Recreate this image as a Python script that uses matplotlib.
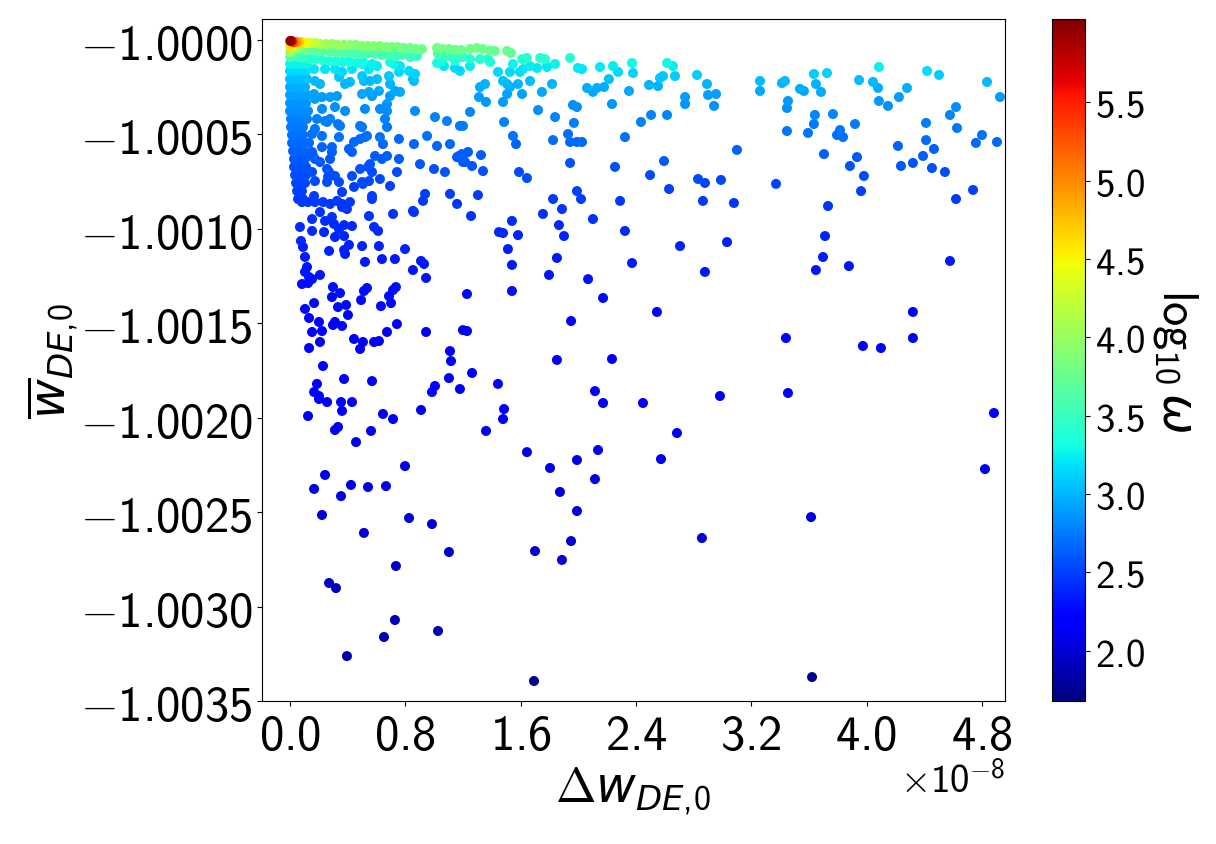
import numpy as np
import matplotlib
matplotlib.use("Agg")
import matplotlib.pyplot as plt
from matplotlib.ticker import FuncFormatter

plt.rcParams['mathtext.fontset'] = 'custom'
plt.rcParams['mathtext.rm'] = 'cmss10'
plt.rcParams['mathtext.sf'] = 'cmss10'
plt.rcParams['mathtext.it'] = 'DejaVu Sans:italic'
plt.rcParams['mathtext.bf'] = 'cmss10'

# each point: (Delta w_DE,0 in units of 1e-8, mean w_DE,0, log10 omega)
top_edge = [
    (0.002, -1.000005, 5.95), (0.010, -1.000005, 5.7), (0.021, -1.000011, 5.35), (0.042, -1.000011, 5.0),
    (0.062, -1.000011, 4.75), (0.083, -1.000011, 4.55), (0.111, -1.000016, 4.4), (0.139, -1.000016, 4.3),
    (0.173, -1.000016, 4.2), (0.208, -1.000021, 4.1), (0.250, -1.000021, 4.05), (0.291, -1.000021, 4.0),
    (0.333, -1.000026, 4.0), (0.375, -1.000026, 3.95), (0.416, -1.000026, 3.95), (0.458, -1.000026, 3.9),
    (0.500, -1.000032, 3.9), (0.541, -1.000032, 3.9), (0.583, -1.000032, 3.9), (0.624, -1.000032, 3.9),
    (0.666, -1.000037, 3.85), (0.708, -1.000037, 3.85), (0.749, -1.000037, 3.85), (0.791, -1.000042, 3.8),
    (0.833, -1.000042, 3.8), (0.874, -1.000048, 3.8), (0.916, -1.000048, 3.8), (1.020, -1.000042, 3.8),
    (1.062, -1.000048, 3.8), (1.103, -1.000048, 3.8), (1.145, -1.000053, 3.78), (1.186, -1.000053, 3.78),
    (1.249, -1.000048, 3.8), (1.297, -1.000042, 3.82), (1.339, -1.000048, 3.8), (1.388, -1.000058, 3.75),
    (1.422, -1.000058, 3.75), (1.506, -1.000058, 3.75), (1.533, -1.000069, 3.7),
]

second_row = [
    (0.002, -1.000032, 4.6), (0.014, -1.000037, 4.3), (0.042, -1.000042, 4.0), (0.069, -1.000048, 3.85),
    (0.104, -1.000053, 3.75), (0.146, -1.000053, 3.7), (0.187, -1.000058, 3.7), (0.229, -1.000058, 3.7),
    (0.278, -1.000064, 3.65), (0.319, -1.000064, 3.65), (0.361, -1.000064, 3.65), (0.402, -1.000069, 3.6),
    (0.451, -1.000069, 3.6), (0.493, -1.000074, 3.6), (0.541, -1.000069, 3.6), (0.590, -1.000074, 3.6),
    (0.638, -1.000079, 3.55), (0.687, -1.000079, 3.55), (0.735, -1.000085, 3.5), (0.784, -1.000079, 3.55),
    (0.833, -1.000090, 3.5), (0.881, -1.000085, 3.5), (1.027, -1.000074, 3.55), (1.082, -1.000085, 3.5),
    (1.124, -1.000090, 3.45), (1.179, -1.000090, 3.45),
]

third_row = [
    (0.002, -1.000064, 4.0), (0.002, -1.000090, 3.6), (0.028, -1.000085, 3.6), (0.062, -1.000090, 3.5),
    (0.097, -1.000095, 3.45), (0.139, -1.000101, 3.4), (0.180, -1.000101, 3.4), (0.222, -1.000106, 3.4),
    (0.271, -1.000111, 3.35), (0.319, -1.000111, 3.35), (0.368, -1.000116, 3.3), (0.416, -1.000116, 3.3),
    (0.465, -1.000122, 3.3), (0.506, -1.000116, 3.3), (0.569, -1.000127, 3.25), (0.694, -1.000116, 3.3),
    (0.763, -1.000138, 3.2), (1.020, -1.000122, 3.3), (1.068, -1.000138, 3.2), (1.145, -1.000148, 3.15),
    (1.249, -1.000101, 3.4), (1.318, -1.000101, 3.4), (1.374, -1.000101, 3.4), (1.610, -1.000101, 3.4),
    (1.644, -1.000095, 3.42), (1.735, -1.000095, 3.42), (1.769, -1.000101, 3.4), (1.943, -1.000095, 3.42),
    (1.200, -1.000090, 3.45), (1.055, -1.000111, 3.35), (1.145, -1.000111, 3.35),
]

left_column = [
    (0.0, -1.000127, 3.27), (0.035, -1.000127, 3.27), (0.076, -1.000127, 3.27), (0.118, -1.000127, 3.27),
    (0.0, -1.000164, 3.15), (0.028, -1.000164, 3.15), (0.069, -1.000164, 3.15), (0.111, -1.000164, 3.15),
    (0.0, -1.000207, 3.05), (0.035, -1.000207, 3.05), (0.076, -1.000207, 3.05), (0.118, -1.000207, 3.05),
    (0.0, -1.000249, 2.97), (0.028, -1.000249, 2.97), (0.069, -1.000249, 2.97), (0.104, -1.000249, 2.97),
    (0.0, -1.000291, 2.92), (0.035, -1.000291, 2.92), (0.076, -1.000291, 2.92), (0.118, -1.000291, 2.92),
    (0.0, -1.000334, 2.86), (0.035, -1.000334, 2.86), (0.069, -1.000334, 2.86), (0.111, -1.000334, 2.86),
    (0.0, -1.000376, 2.82), (0.042, -1.000376, 2.82), (0.083, -1.000376, 2.82), (0.125, -1.000376, 2.82),
    (0.007, -1.000418, 2.78), (0.042, -1.000418, 2.78), (0.083, -1.000418, 2.78), (0.118, -1.000418, 2.78),
    (0.007, -1.000461, 2.74), (0.049, -1.000461, 2.74), (0.090, -1.000461, 2.74),
    (0.014, -1.000503, 2.7), (0.049, -1.000503, 2.7), (0.090, -1.000503, 2.7),
    (0.014, -1.000545, 2.67), (0.056, -1.000545, 2.67), (0.097, -1.000545, 2.67), (0.132, -1.000545, 2.67),
    (0.021, -1.000588, 2.64), (0.056, -1.000588, 2.64), (0.097, -1.000588, 2.64),
    (0.028, -1.000630, 2.6), (0.062, -1.000630, 2.6), (0.104, -1.000630, 2.6),
    (0.028, -1.000672, 2.58), (0.069, -1.000672, 2.58), (0.111, -1.000672, 2.58),
    (0.035, -1.000715, 2.55), (0.069, -1.000715, 2.55), (0.111, -1.000715, 2.55),
    (0.042, -1.000757, 2.52), (0.076, -1.000757, 2.52), (0.104, -1.000757, 2.52),
    (0.049, -1.000800, 2.5), (0.083, -1.000800, 2.5),
    (0.056, -1.000842, 2.47), (0.090, -1.000842, 2.47),
]

inner_cluster = [
    (0.167, -1.000154, 3.2), (0.243, -1.000154, 3.2), (0.312, -1.000154, 3.2), (0.361, -1.000169, 3.15),
    (0.430, -1.000154, 3.2), (0.500, -1.000127, 3.27), (0.548, -1.000154, 3.2), (0.604, -1.000138, 3.23),
    (0.722, -1.000127, 3.27), (0.826, -1.000164, 3.15), (0.867, -1.000180, 3.12), (0.173, -1.000217, 3.02),
    (0.208, -1.000233, 3.0), (0.340, -1.000196, 3.07), (0.416, -1.000222, 3.02), (0.500, -1.000191, 3.08),
    (0.513, -1.000217, 3.02), (0.555, -1.000217, 3.02), (0.687, -1.000191, 3.08), (0.756, -1.000169, 3.13),
    (0.860, -1.000217, 3.02), (0.167, -1.000286, 2.93), (0.173, -1.000312, 2.9), (0.222, -1.000302, 2.9),
    (0.278, -1.000302, 2.9), (0.326, -1.000297, 2.9), (0.382, -1.000233, 3.0), (0.500, -1.000286, 2.93),
    (0.548, -1.000275, 2.94), (0.617, -1.000270, 2.95), (0.694, -1.000297, 2.9), (0.728, -1.000270, 2.95),
    (0.763, -1.000275, 2.94), (0.867, -1.000376, 2.82), (1.006, -1.000408, 2.8), (1.089, -1.000429, 2.78),
    (1.179, -1.000455, 2.75), (0.222, -1.000365, 2.83), (0.312, -1.000355, 2.84), (0.382, -1.000376, 2.82),
    (0.520, -1.000365, 2.83), (0.624, -1.000365, 2.83), (0.673, -1.000376, 2.82), (0.187, -1.000418, 2.78),
    (0.243, -1.000429, 2.77), (0.278, -1.000418, 2.78), (0.347, -1.000455, 2.75), (0.500, -1.000461, 2.74),
    (0.659, -1.000418, 2.78), (0.673, -1.000461, 2.74), (0.173, -1.000471, 2.73), (0.222, -1.000508, 2.7),
    (0.340, -1.000514, 2.7), (0.444, -1.000540, 2.68), (0.486, -1.000524, 2.68), (0.520, -1.000514, 2.7),
    (0.624, -1.000514, 2.7), (0.756, -1.000524, 2.68), (0.860, -1.000551, 2.66), (0.951, -1.000508, 2.7),
    (1.020, -1.000561, 2.66), (1.110, -1.000551, 2.66), (1.173, -1.000614, 2.62), (0.153, -1.000593, 2.63),
    (0.173, -1.000630, 2.6), (0.208, -1.000646, 2.6), (0.291, -1.000567, 2.65), (0.278, -1.000630, 2.6),
    (0.409, -1.000577, 2.64), (0.430, -1.000593, 2.63), (0.590, -1.000614, 2.62), (0.638, -1.000630, 2.6),
    (0.673, -1.000614, 2.62), (0.756, -1.000630, 2.6), (0.902, -1.000657, 2.59), (0.999, -1.000683, 2.58),
    (1.075, -1.000699, 2.57), (1.159, -1.000620, 2.61), (0.153, -1.000699, 2.56), (0.271, -1.000699, 2.56),
    (0.312, -1.000720, 2.55), (0.340, -1.000752, 2.53), (0.257, -1.000752, 2.53), (0.430, -1.000720, 2.55),
    (0.500, -1.000752, 2.53), (0.548, -1.000747, 2.53), (0.624, -1.000736, 2.54), (0.742, -1.000699, 2.56),
    (0.173, -1.000747, 2.53), (0.167, -1.000826, 2.48), (0.361, -1.000805, 2.49), (0.444, -1.000778, 2.5),
    (0.569, -1.000826, 2.48), (0.937, -1.000815, 2.48), (1.110, -1.000815, 2.48),
    (0.257, -1.000434, 2.76), (0.333, -1.000445, 2.75), (0.153, -1.000498, 2.71), (0.160, -1.000614, 2.62),
    (0.222, -1.000567, 2.65), (0.291, -1.000593, 2.63), (0.257, -1.000683, 2.57), (0.264, -1.000725, 2.55),
    (0.069, -1.000773, 2.51), (0.125, -1.000858, 2.47), (0.229, -1.000858, 2.47), (0.278, -1.000868, 2.46),
    (0.326, -1.000852, 2.47), (0.361, -1.000868, 2.46), (0.416, -1.000858, 2.47), (0.395, -1.000895, 2.45),
    (0.486, -1.000683, 2.57), (0.506, -1.000762, 2.52), (0.541, -1.000672, 2.58), (0.569, -1.000699, 2.56),
    (0.486, -1.000455, 2.75), (0.534, -1.000508, 2.7), (0.645, -1.000551, 2.66), (0.555, -1.000657, 2.59),
    (1.193, -1.000604, 2.62), (1.200, -1.000646, 2.6), (0.694, -1.000773, 2.51), (0.923, -1.000852, 2.47),
    (1.159, -1.000868, 2.46), (0.853, -1.000905, 2.45), (0.715, -1.000921, 2.44), (0.853, -1.000207, 3.05),
    (0.694, -1.000233, 3.0), (0.569, -1.000297, 2.9), (0.673, -1.000339, 2.86), (0.604, -1.000207, 3.05),
    (1.179, -1.000164, 3.15),
]

middle_upper = [
    (1.249, -1.000138, 3.23), (1.388, -1.000116, 3.3), (1.443, -1.000169, 3.15), (1.526, -1.000169, 3.15),
    (1.547, -1.000127, 3.27), (1.596, -1.000169, 3.15), (1.617, -1.000154, 3.2), (1.665, -1.000138, 3.23),
    (1.714, -1.000148, 3.22), (1.783, -1.000143, 3.22), (1.839, -1.000127, 3.27), (1.998, -1.000148, 3.22),
    (2.026, -1.000154, 3.2), (2.151, -1.000143, 3.22), (2.241, -1.000138, 3.23), (2.276, -1.000169, 3.15),
    (2.373, -1.000122, 3.28), (2.380, -1.000175, 3.14), (2.616, -1.000122, 3.28), (2.657, -1.000138, 3.23),
    (2.671, -1.000191, 3.1), (2.824, -1.000185, 3.1),
    (1.478, -1.000217, 3.03), (1.506, -1.000233, 3.0), (1.526, -1.000249, 2.97), (1.582, -1.000233, 3.0),
    (1.665, -1.000217, 3.03), (1.748, -1.000275, 2.94), (1.818, -1.000233, 3.0), (1.318, -1.000249, 2.97),
    (1.353, -1.000233, 3.0), (1.311, -1.000302, 2.9), (1.360, -1.000328, 2.87), (1.478, -1.000328, 2.87),
    (1.506, -1.000286, 2.92), (1.610, -1.000286, 2.92), (2.061, -1.000254, 2.97), (2.102, -1.000275, 2.94),
    (2.130, -1.000254, 2.97), (2.179, -1.000249, 2.97), (2.213, -1.000207, 3.05), (2.234, -1.000339, 2.86),
    (2.352, -1.000270, 2.95), (2.491, -1.000238, 2.99), (2.553, -1.000244, 2.98), (2.567, -1.000201, 3.06),
    (2.588, -1.000191, 3.08), (2.741, -1.000302, 2.9), (2.741, -1.000339, 2.86), (2.893, -1.000233, 3.0),
    (2.900, -1.000291, 2.92), (2.956, -1.000286, 2.92), (2.942, -1.000349, 2.85),
    (1.249, -1.000381, 2.81), (1.200, -1.000455, 2.75), (1.721, -1.000371, 2.82), (1.839, -1.000408, 2.79),
    (1.485, -1.000434, 2.77), (1.963, -1.000344, 2.85), (1.991, -1.000355, 2.84), (1.970, -1.000439, 2.76),
    (1.929, -1.000498, 2.71), (1.943, -1.000540, 2.68), (1.991, -1.000540, 2.68), (2.026, -1.000540, 2.68),
    (1.825, -1.000530, 2.69), (1.547, -1.000508, 2.7), (1.568, -1.000551, 2.66), (2.324, -1.000514, 2.7),
    (2.435, -1.000434, 2.77), (2.505, -1.000397, 2.8), (2.616, -1.000397, 2.8),
    (1.200, -1.000614, 2.62), (1.235, -1.000593, 2.63), (1.214, -1.000646, 2.6), (1.263, -1.000667, 2.59),
    (1.325, -1.000609, 2.62), (1.339, -1.000694, 2.57), (1.589, -1.000699, 2.56), (1.644, -1.000731, 2.55),
    (1.943, -1.000651, 2.59), (2.255, -1.000672, 2.58), (2.498, -1.000715, 2.55), (2.595, -1.000641, 2.6),
    (2.831, -1.000736, 2.54), (2.879, -1.000757, 2.52), (2.990, -1.000741, 2.53), (3.101, -1.000582, 2.64),
    (1.304, -1.000821, 2.48), (1.256, -1.000932, 2.43), (1.540, -1.000958, 2.42), (1.450, -1.001017, 2.4),
    (1.478, -1.001022, 2.4), (1.582, -1.001033, 2.39), (1.512, -1.001107, 2.35), (1.755, -1.000921, 2.44),
    (1.825, -1.000842, 2.47), (1.887, -1.000895, 2.45), (1.866, -1.000980, 2.41), (1.901, -1.001038, 2.39),
    (1.991, -1.000800, 2.5), (2.019, -1.000842, 2.47), (2.102, -1.000948, 2.43), (2.290, -1.000852, 2.47),
    (2.324, -1.001011, 2.4), (2.630, -1.000789, 2.5), (2.865, -1.000852, 2.47), (3.080, -1.000863, 2.46),
    (2.706, -1.001091, 2.36), (3.032, -1.001070, 2.37),
]

right_upper = [
    (3.261, -1.000217, 3.02), (3.261, -1.000270, 2.95), (3.413, -1.000228, 3.0), (3.434, -1.000217, 3.02),
    (3.635, -1.000180, 3.1), (3.726, -1.000175, 3.12), (4.086, -1.000143, 3.25), (4.420, -1.000164, 3.17),
    (4.503, -1.000185, 3.1), (4.836, -1.000222, 3.02), (4.926, -1.000302, 2.9), (3.538, -1.000259, 2.96),
    (3.566, -1.000270, 2.95), (3.649, -1.000233, 3.0), (3.684, -1.000275, 2.94), (3.948, -1.000212, 3.03),
    (4.045, -1.000222, 3.02), (4.080, -1.000254, 2.97), (4.281, -1.000254, 2.97), (4.225, -1.000302, 2.9),
    (4.086, -1.000323, 2.88), (4.149, -1.000349, 2.85), (3.455, -1.000323, 2.88), (3.448, -1.000360, 2.84),
    (3.642, -1.000397, 2.8), (3.635, -1.000445, 2.76), (3.767, -1.000392, 2.81), (3.920, -1.000445, 2.76),
    (3.816, -1.000477, 2.73), (3.795, -1.000503, 2.71), (3.837, -1.000514, 2.7), (3.448, -1.000482, 2.72),
    (3.594, -1.000492, 2.72), (4.413, -1.000439, 2.76), (4.413, -1.000530, 2.69), (4.468, -1.000577, 2.64),
    (4.579, -1.000397, 2.8), (4.621, -1.000355, 2.84), (4.628, -1.000466, 2.74), (4.801, -1.000503, 2.71),
    (4.759, -1.000545, 2.67), (4.905, -1.000540, 2.67), (4.218, -1.000561, 2.66), (3.705, -1.000604, 2.62),
    (3.934, -1.000620, 2.61), (3.885, -1.000667, 2.59), (3.982, -1.000720, 2.55), (3.962, -1.000800, 2.5),
    (4.239, -1.000667, 2.59), (4.322, -1.000651, 2.59), (4.392, -1.000614, 2.62), (4.454, -1.000678, 2.58),
    (4.544, -1.000699, 2.56), (4.739, -1.000794, 2.5), (4.621, -1.000842, 2.47), (3.372, -1.000762, 2.52),
    (3.733, -1.000879, 2.46), (3.712, -1.001038, 2.39),
]

middle_lower = [
    (1.852, -1.001154, 2.34), (1.540, -1.001191, 2.33), (1.797, -1.001244, 2.31), (2.373, -1.001181, 2.33),
    (2.068, -1.001266, 2.3), (2.879, -1.001228, 2.31), (1.228, -1.001345, 2.27), (1.540, -1.001329, 2.28),
    (2.172, -1.001366, 2.27), (2.546, -1.001440, 2.25), (1.950, -1.001488, 2.24), (1.200, -1.001536, 2.23),
    (1.228, -1.001541, 2.23), (1.852, -1.001694, 2.2), (2.234, -1.001689, 2.2), (1.263, -1.001763, 2.19),
    (1.179, -1.001848, 2.17), (1.443, -1.001821, 2.18), (2.116, -1.001859, 2.17), (2.172, -1.001922, 2.16),
    (2.449, -1.001922, 2.16), (2.983, -1.001885, 2.16), (1.485, -1.001954, 2.15), (1.478, -1.002007, 2.14),
    (1.360, -1.002070, 2.13), (2.685, -1.002081, 2.13), (1.644, -1.002182, 2.11), (2.137, -1.002171, 2.11),
    (1.991, -1.002224, 2.1), (1.804, -1.002266, 2.09), (2.574, -1.002219, 2.1), (2.116, -1.002325, 2.08),
    (1.873, -1.002393, 2.07), (1.991, -1.002494, 2.05), (1.950, -1.002653, 2.01), (1.700, -1.002706, 2.0),
    (1.887, -1.002753, 1.99), (2.858, -1.002637, 2.01), (1.693, -1.003394, 1.75),
]

right_lower = [
    (3.698, -1.001149, 2.34), (3.649, -1.001218, 2.32), (3.878, -1.001197, 2.32), (4.579, -1.001170, 2.33),
    (4.322, -1.001440, 2.25), (3.441, -1.001578, 2.22), (3.975, -1.001620, 2.21), (4.100, -1.001631, 2.21),
    (4.322, -1.001578, 2.22), (3.455, -1.001869, 2.17), (4.884, -1.001975, 2.15), (4.822, -1.002272, 2.09),
    (3.615, -1.002526, 2.04), (3.622, -1.003373, 1.75),
]

left_lower = [
    (0.201, -1.001901, 2.15), (0.257, -1.001917, 2.15), (0.354, -1.001917, 2.15), (0.430, -1.001917, 2.15),
    (0.125, -1.001991, 2.14), (0.361, -1.001964, 2.14), (0.645, -1.001980, 2.14), (0.715, -1.002007, 2.14),
    (0.909, -1.001959, 2.14), (0.312, -1.002065, 2.13), (0.333, -1.002049, 2.13), (0.562, -1.002070, 2.13),
    (0.458, -1.002129, 2.12), (0.798, -1.002256, 2.1), (0.243, -1.002303, 2.09), (0.167, -1.002377, 2.07),
    (0.423, -1.002356, 2.08), (0.541, -1.002367, 2.08), (0.666, -1.002362, 2.08), (0.354, -1.002415, 2.07),
    (0.222, -1.002515, 2.05), (0.826, -1.002531, 2.04), (0.985, -1.002563, 2.04), (0.513, -1.002610, 2.03),
    (1.103, -1.002711, 2.0), (0.735, -1.002785, 1.98), (0.271, -1.002875, 1.96), (0.319, -1.002902, 1.95),
    (0.728, -1.003071, 1.9), (1.027, -1.003129, 1.88), (0.652, -1.003161, 1.87), (0.395, -1.003262, 1.83),
]

left_middle = [
    (0.083, -1.000858, 2.47), (0.173, -1.000858, 2.47), (0.361, -1.000884, 2.46), (0.569, -1.000842, 2.47),
    (0.153, -1.000948, 2.43), (0.208, -1.000911, 2.44), (0.243, -1.000958, 2.42), (0.291, -1.000937, 2.43),
    (0.305, -1.000974, 2.41), (0.236, -1.001017, 2.4), (0.069, -1.000990, 2.41), (0.153, -1.001011, 2.4),
    (0.340, -1.001001, 2.4), (0.375, -1.000980, 2.41), (0.430, -1.000985, 2.41), (0.312, -1.001043, 2.39),
    (0.375, -1.001038, 2.39), (0.548, -1.000932, 2.43), (0.860, -1.000911, 2.44), (0.583, -1.000990, 2.41),
    (0.611, -1.001011, 2.4), (0.076, -1.001064, 2.38), (0.090, -1.001096, 2.37), (0.271, -1.001117, 2.36),
    (0.375, -1.001112, 2.36), (0.382, -1.001133, 2.35), (0.409, -1.001085, 2.37), (0.500, -1.001091, 2.37),
    (0.617, -1.001091, 2.37), (0.798, -1.001107, 2.36), (0.104, -1.001149, 2.35), (0.520, -1.001175, 2.34),
    (0.638, -1.001160, 2.34), (0.728, -1.001160, 2.34), (0.853, -1.001218, 2.32), (0.909, -1.001170, 2.33),
    (0.930, -1.001186, 2.33), (0.944, -1.001260, 2.3), (0.118, -1.001202, 2.32), (0.104, -1.001228, 2.31),
    (0.132, -1.001255, 2.3), (0.153, -1.001266, 2.3), (0.083, -1.001292, 2.29), (0.125, -1.001287, 2.29),
    (0.208, -1.001244, 2.31), (0.298, -1.001308, 2.29), (0.347, -1.001340, 2.28), (0.291, -1.001361, 2.27),
    (0.493, -1.001377, 2.27), (0.513, -1.001329, 2.28), (0.534, -1.001313, 2.28), (0.687, -1.001356, 2.27),
    (0.715, -1.001324, 2.28), (0.735, -1.001308, 2.29), (0.701, -1.001393, 2.26), (0.631, -1.001409, 2.26),
    (0.104, -1.001424, 2.26), (0.167, -1.001393, 2.26), (0.132, -1.001472, 2.25), (0.333, -1.001414, 2.26),
    (0.389, -1.001403, 2.26), (0.402, -1.001456, 2.25), (0.312, -1.001493, 2.24), (0.298, -1.001509, 2.24),
    (0.361, -1.001514, 2.24), (0.201, -1.001493, 2.24), (0.153, -1.001546, 2.23), (0.222, -1.001541, 2.23),
    (0.208, -1.001599, 2.22), (0.132, -1.001631, 2.21), (0.444, -1.001583, 2.22), (0.506, -1.001599, 2.22),
    (0.486, -1.001636, 2.21), (0.583, -1.001599, 2.22), (0.617, -1.001594, 2.22), (0.673, -1.001546, 2.23),
    (0.742, -1.001504, 2.24), (0.944, -1.001546, 2.23), (0.229, -1.001726, 2.19), (1.110, -1.001647, 2.21),
    (1.117, -1.001700, 2.2), (0.187, -1.001821, 2.18), (0.375, -1.001795, 2.18), (0.569, -1.001806, 2.18),
    (1.103, -1.001790, 2.18), (1.006, -1.001832, 2.17), (0.985, -1.001864, 2.17), (0.167, -1.001864, 2.17),
    (0.201, -1.001885, 2.16),
]

groups = [top_edge, second_row, third_row, left_column, inner_cluster, middle_upper,
          right_upper, middle_lower, right_lower, left_lower, left_middle]
pts = np.array([p for g in groups for p in g])
order = np.argsort(pts[:, 2])
dw = pts[order, 0] * 1e-8
wbar = pts[order, 1]
logw = pts[order, 2]

x_ticks = [0.0, 0.8, 1.6, 2.4, 3.2, 4.0, 4.8]
y_ticks = [-1.0035, -1.0030, -1.0025, -1.0020, -1.0015, -1.0010, -1.0005, -1.0000]
cb_ticks = [2.0, 2.5, 3.0, 3.5, 4.0, 4.5, 5.0, 5.5]

fig = plt.figure(figsize=(12.16, 8.45), dpi=100)
ax = fig.add_axes([0.2155, 0.1692, 0.6110, 0.8071])
cax = fig.add_axes([0.8651, 0.1692, 0.0271, 0.8071])

sc = ax.scatter(dw, wbar, c=logw, cmap='jet', vmin=1.68, vmax=6.03, s=52, edgecolors='none')

ax.set_xlim(-0.194e-8, 4.961e-8)
ax.set_ylim(-1.0035, -0.999889)
ax.set_xticks([t * 1e-8 for t in x_ticks])
ax.set_yticks(y_ticks)
ax.xaxis.set_major_formatter(FuncFormatter(lambda v, p: r'$%.1f$' % (v * 1e8 + 0.0)))
ax.yaxis.set_major_formatter(FuncFormatter(lambda v, p: r'$%.4f$' % v))
ax.tick_params(labelsize=35)
ax.text(1.0, -0.118, r'$\times10^{-8}$', transform=ax.transAxes, ha='right', va='center', fontsize=28)

ax.set_xlabel(r'$\Delta w_{DE,\!0}$', fontsize=35, labelpad=4)
ax.set_ylabel(r'$\overline{w}_{DE,\!0}$', fontsize=35, labelpad=0)

cb = fig.colorbar(sc, cax=cax, ticks=cb_ticks)
cb.ax.yaxis.set_major_formatter(FuncFormatter(lambda v, p: r'$%.1f$' % v))
cb.ax.tick_params(labelsize=28)
cb.set_label(r'$\log_{10}\omega$', rotation=270, fontsize=35, labelpad=40)

fig.savefig('out.png', dpi=100)
